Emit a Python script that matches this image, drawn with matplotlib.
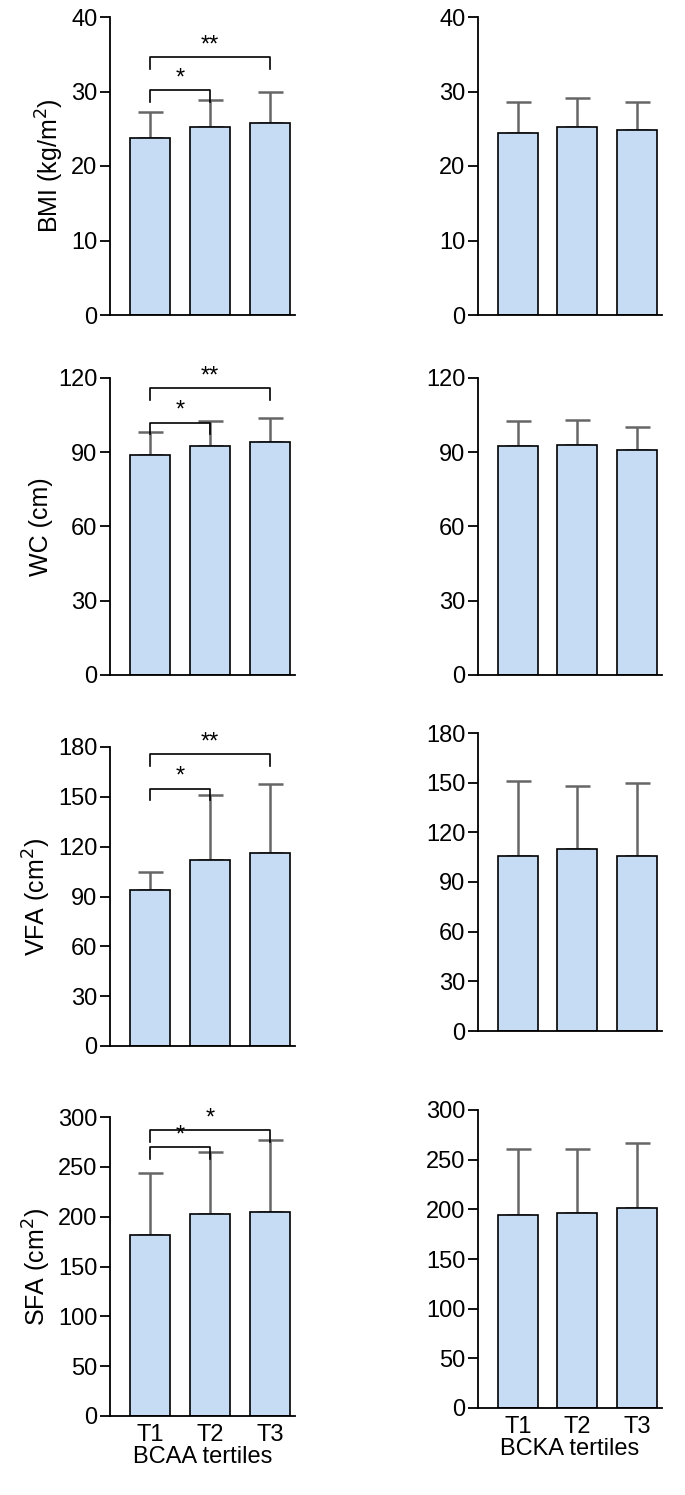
import numpy as np
import matplotlib.pyplot as plt

plt.rcParams["font.family"] = "Liberation Sans"

groups = ["T1", "T2", "T3"]

# BCAA tertiles (left column)
bmi_bcaa = [23.7, 25.2, 25.8]
bmi_bcaa_sd = [3.6, 3.6, 4.2]
wc_bcaa = [89, 92.5, 94]
wc_bcaa_sd = [9, 10, 10]
vfa_bcaa = [94, 112, 116]
vfa_bcaa_sd = [11, 39, 42]
sfa_bcaa = [182, 203, 205]
sfa_bcaa_sd = [62, 62, 72]

# BCKA tertiles (right column)
bmi_bcka = [24.4, 25.3, 24.8]
bmi_bcka_sd = [4.2, 3.8, 3.8]
wc_bcka = [92.5, 93, 91]
wc_bcka_sd = [10, 10, 9]
vfa_bcka = [106, 110, 106]
vfa_bcka_sd = [45, 38, 44]
sfa_bcka = [194, 196, 201]
sfa_bcka_sd = [67, 65, 66]

ylabels = ["BMI (kg/m$^2$)", "WC (cm)", "VFA (cm$^2$)", "SFA (cm$^2$)"]
ymax = [40, 120, 180, 300]
ystep = [10, 30, 30, 50]
# significance brackets: (pair, y of bracket, label)
sig = [
    [((0, 1), 30.2, "*"), ((0, 2), 34.6, "**")],
    [((0, 1), 102, "*"), ((0, 2), 116, "**")],
    [((0, 1), 155, "*"), ((0, 2), 176, "**")],
    [((0, 1), 270, "*"), ((0, 2), 287, "*")],
]

left_data = [(bmi_bcaa, bmi_bcaa_sd), (wc_bcaa, wc_bcaa_sd),
             (vfa_bcaa, vfa_bcaa_sd), (sfa_bcaa, sfa_bcaa_sd)]
right_data = [(bmi_bcka, bmi_bcka_sd), (wc_bcka, wc_bcka_sd),
              (vfa_bcka, vfa_bcka_sd), (sfa_bcka, sfa_bcka_sd)]

W, H = 685, 1495
fig = plt.figure(figsize=(W / 100, H / 100), dpi=100)

left_rows = [(17, 315), (378, 675), (747, 1046), (1117, 1416)]
right_rows = [(17, 315), (378, 675), (733, 1031), (1110, 1408)]


def panel(x0, x1, y0, y1, vals, sds, i, brackets, xlab):
    ax = fig.add_axes([x0 / W, 1 - y1 / H, (x1 - x0) / W, (y1 - y0) / H])
    x = np.arange(3)
    ax.bar(x, vals, width=0.67, color="#c6dcf5", edgecolor="black", lw=1.2, zorder=2)
    ax.errorbar(x, vals, yerr=[np.zeros(3), sds], fmt="none", ecolor="#666666",
                elinewidth=1.8, capsize=9, capthick=1.8, zorder=1)
    ax.set_xlim(-0.67, 2.42)
    ax.set_ylim(0, ymax[i])
    ax.set_yticks(np.arange(0, ymax[i] + 1, ystep[i]))
    ax.spines["top"].set_visible(False)
    ax.spines["right"].set_visible(False)
    for s in ["left", "bottom"]:
        ax.spines[s].set_linewidth(1.3)
    ax.tick_params(axis="y", length=7, width=1.3, labelsize=17, pad=2)
    ax.tick_params(axis="x", length=0, labelsize=17, pad=6)
    ax.set_xticks(x)
    if i == 3:
        ax.set_xticklabels(groups)
        ax.set_xlabel(xlab, fontsize=17, labelpad=0)
    else:
        ax.set_xticklabels([])
    d = ymax[i] * 0.04
    for (a, b), yb, lab in brackets:
        ax.plot([a, a, b, b], [yb - d, yb, yb, yb - d], color="black", lw=1.2, clip_on=False)
        ax.text((a + b) / 2, yb + d * 0.05, lab, ha="center",
                va="bottom", fontsize=17, clip_on=False)
    return ax


for i in range(4):
    y0, y1 = left_rows[i]
    ax = panel(110, 295, y0, y1, left_data[i][0], left_data[i][1], i, sig[i], "BCAA tertiles")
    ax.set_ylabel(ylabels[i], fontsize=18, labelpad=4)
    y0, y1 = right_rows[i]
    panel(478, 662, y0, y1, right_data[i][0], right_data[i][1], i, [], "BCKA tertiles")

fig.savefig("out.png", dpi=100)
